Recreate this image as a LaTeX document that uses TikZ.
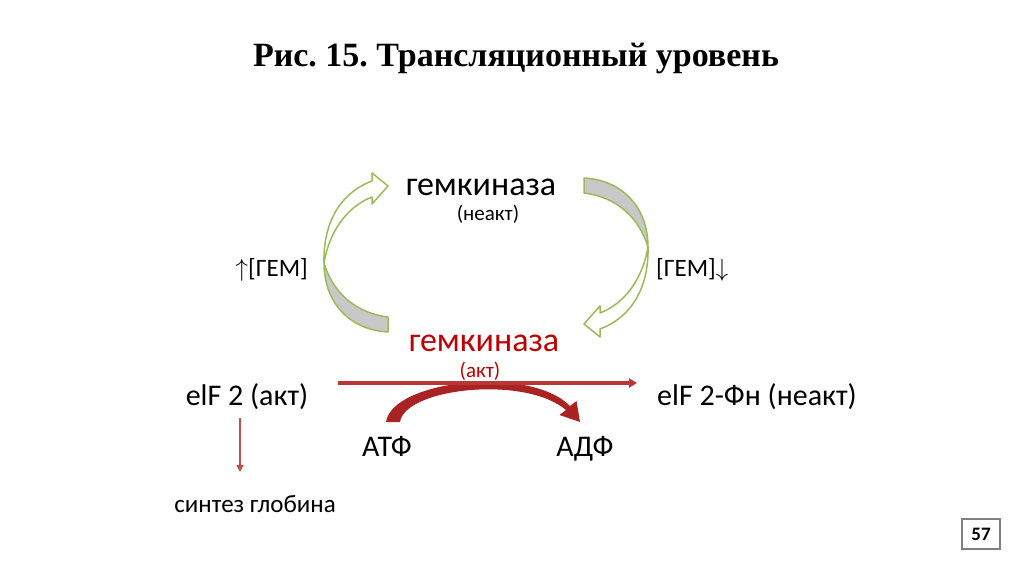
\documentclass[tikz,border=0pt]{standalone}
\usepackage{fontspec}
\setmainfont{Carlito}
\newfontfamily\titlefont{Liberation Serif}
\usetikzlibrary{arrows.meta}
\frenchspacing

\definecolor{leafgreen}{RGB}{155,187,89}
\definecolor{bandgray}{RGB}{200,200,200}
\definecolor{kinred}{RGB}{192,0,0}
\definecolor{arrowred}{RGB}{185,55,55}
\definecolor{synthred}{RGB}{192,80,77}
\definecolor{bendred}{RGB}{170,35,35}

\tikzset{
  cyclearrow/.pic={
    \filldraw[fill=white, draw=leafgreen, line width=1.5pt, line join=round]
      (-162,8) .. controls (-163,-32) and (-146,-62) .. (-114,-74)
      -- (-114,-82) -- (-98,-69) -- (-114,-51) -- (-114,-58)
      .. controls (-140,-48) and (-157,-22) .. (-162,8) -- cycle;
    \filldraw[fill=bandgray, draw=leafgreen, line width=1.5pt, line join=round]
      (-162,8) .. controls (-162,48) and (-136,75) .. (-98,77)
      -- (-98,62) .. controls (-130,58) and (-153,38) .. (-162,8) -- cycle;
  },
  big/.style={anchor=base, font=\fontsize{34}{40}\selectfont},
  mid/.style={anchor=base, font=\fontsize{30}{36}\selectfont},
  small/.style={anchor=base, font=\fontsize{25}{30}\selectfont},
  tiny/.style={anchor=base, font=\fontsize{21}{25}\selectfont}
}

\begin{document}
\begin{tikzpicture}[x=1pt, y=-1pt, inner sep=0pt]
  \useasboundingbox (0,0) rectangle (1024,574);
  \node[anchor=base, font=\titlefont\bfseries\fontsize{34}{40}\selectfont] (title)
    at (516,66) {Рис. 15. Трансляционный уровень};

  % cycle of the kinase
  \pic at (486,255) {cyclearrow};
  \pic[rotate=180] at (486,255) {cyclearrow};
  \node[big] (kin) at (481,195) {гемкиназа};
  \node[tiny] (kinna) at (488,220) {(неакт)};
  \node[small, anchor=base east] (hemup) at (308,276) {$\uparrow$[ГЕМ]};
  \node[small, anchor=base west] (hemdn) at (656,276) {[ГЕМ]$\downarrow$};
  \node[big, text=kinred] (kinact) at (484,351) {гемкиназа};
  \node[tiny, text=kinred] (act) at (480,377) {(акт)};

  % phosphorylation
  \node[mid] (eif) at (247,405) {elF 2 (акт)};
  \node[mid] (eifp) at (757,405) {elF 2-Фн (неакт)};
  \node[mid] (atp) at (387,456) {АТФ};
  \node[mid] (adp) at (585,456) {АДФ};
  \node[small] (synth) at (255,512) {синтез глобина};

  \fill[bendred] (386,422) .. controls (392,380) and (530,365) .. (570,406)
    -- (576.5,401) -- (580,422) -- (559.5,415) -- (566,410)
    .. controls (525,375) and (405,388) .. (400,422) -- cycle;
  \coordinate (ls) at (338,383);
  \coordinate (le) at (637,383);
  \draw[arrowred, line width=3.2pt, -{Triangle[length=8pt,width=9pt]}] (ls) -- (le);
  \coordinate (gs) at (240,418);
  \coordinate (ge) at (240,472);
  \draw[synthred, line width=1.5pt, -{Triangle[length=7pt,width=7pt]}] (gs) -- (ge);

  \node[draw=gray, line width=1.5pt, minimum width=38pt, minimum height=30pt,
    font=\bfseries\fontsize{19}{22}\selectfont] (page) at (981,534) {57};
\end{tikzpicture}
\end{document}
